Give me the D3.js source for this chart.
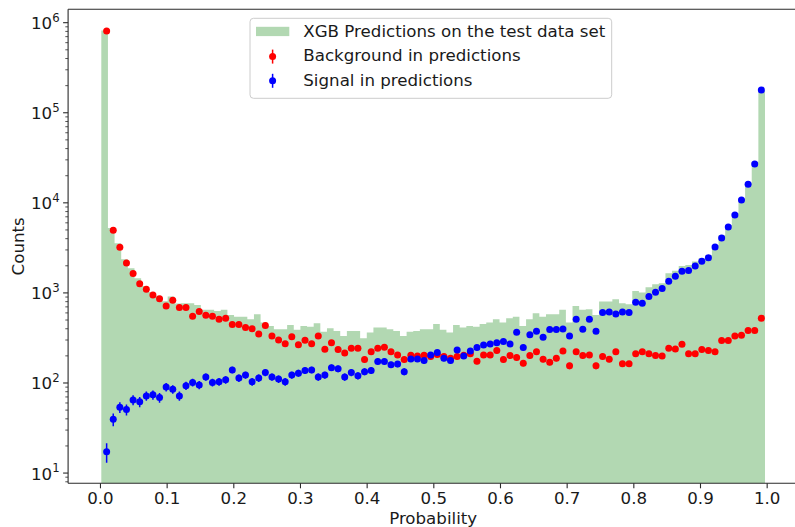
<!DOCTYPE html>
<html>
<head>
<meta charset="utf-8">
<script src="https://cdn.jsdelivr.net/npm/d3@7/dist/d3.min.js"></script>
<style>
  body { margin: 0; background: #fff; }
  svg { display: block; }
  text { font-family: "DejaVu Sans", sans-serif; fill: #1a1a1a; }
</style>
</head>
<body>
<svg id="chart" width="795" height="527"></svg>
<script>
// Histogram of the classifier output (100 bins over the observed score range)
const histRange = [0.002, 0.9975];
const histCounts = [
  810000, 5200, 3520, 2330, 1860, 1440, 1180, 1013, 921, 796,
  903, 751, 759, 759, 727, 640, 640, 623, 640, 562,
  538, 538, 504, 573, 462, 425, 391, 391, 436, 384,
  425, 417, 455, 367, 401, 374, 329, 374, 374, 310,
  358, 407, 407, 391, 374, 329, 367, 374, 391, 391,
  447, 384, 358, 436, 407, 425, 417, 447, 462, 504,
  462, 517, 538, 425, 504, 588, 538, 573, 573, 640,
  462, 708, 640, 651, 562, 791, 791, 841, 759, 739,
  1040, 995, 1142, 1233, 1265, 1634, 1745, 1968, 2018, 2198,
  2397, 2609, 3365, 4320, 5620, 7580, 10980, 16550, 28300, 177000
];

// Per-class counts, placed at the centres of their own bins
const pointRange = [0.010, 0.992];
const backgroundCounts = [
  800000, 4900, 3180, 2120, 1620, 1250, 1085, 938, 853, 708,
  818, 678, 678, 544, 612, 558, 544, 504, 517, 439,
  439, 407, 396, 346, 428, 329, 297, 270, 321, 263,
  295, 270, 329, 234, 277, 232, 213, 240, 240, 180,
  219, 240, 246, 219, 202, 180, 201, 197, 201, 194,
  204, 194, 186, 194, 201, 208, 172, 202, 202, 226,
  180, 199, 189, 164, 199, 220, 181, 168, 186, 224,
  153, 219, 199, 202, 153, 194, 181, 219, 161, 161,
  209, 220, 209, 199, 197, 240, 236, 266, 208, 208,
  232, 226, 219, 292, 292, 329, 335, 377, 377, 517
];
const signalCounts = [
  17, 39, 53, 50, 64, 61, 71, 73, 68, 89,
  84, 71, 92, 100, 94, 115, 100, 102, 107, 138,
  112, 121, 102, 112, 129, 115, 109, 102, 121, 127,
  136, 138, 115, 121, 146, 142, 115, 129, 119, 132,
  136, 171, 171, 157, 160, 132, 182, 182, 175, 202,
  215, 186, 175, 230, 197, 224, 244, 261, 268, 277,
  285, 268, 362, 244, 338, 371, 318, 387, 387, 393,
  329, 504, 390, 504, 371, 597, 608, 577, 608, 597,
  778, 759, 898, 1005, 1102, 1331, 1514, 1719, 1746, 1968,
  2218, 2432, 3199, 4030, 5330, 7250, 10640, 15900, 26700, 176600
];

const xTicks = [0, 0.1, 0.2, 0.3, 0.4, 0.5, 0.6, 0.7, 0.8, 0.9, 1.0];
const xTickLabels = ["0.0", "0.1", "0.2", "0.3", "0.4", "0.5", "0.6", "0.7", "0.8", "0.9", "1.0"];
const yTickExponents = [1, 2, 3, 4, 5, 6];

const legendLabels = [
  "XGB Predictions on the test data set",
  "Background in predictions",
  "Signal in predictions"
];

const colors = { hist: "#b2d8b2", background: "#ff0000", signal: "#0000ff", axis: "#2a2a2a" };
const FONT = 16.67;

const svg = d3.select("#chart");
const plot = { left: 68.1, right: 798.2, top: 9.3, bottom: 483.3 };

const x = d3.scaleLinear().domain([-0.0478, 1.0473]).range([plot.left, plot.right]);
const y = d3.scaleLog().domain([7.6, 1.39e6]).range([plot.bottom, plot.top]);

svg.append("defs").append("clipPath").attr("id", "plotClip")
  .append("rect")
  .attr("x", plot.left).attr("y", plot.top)
  .attr("width", plot.right - plot.left).attr("height", plot.bottom - plot.top);

const area = svg.append("g").attr("clip-path", "url(#plotClip)");

// histogram as one filled step outline (bin left edges + closing right edge)
const nBins = histCounts.length;
const binW = (histRange[1] - histRange[0]) / nBins;
const steps = histCounts.map((c, i) => ({ p: histRange[0] + i * binW, c }));
steps.push({ p: histRange[1], c: histCounts[nBins - 1] });
area.append("path")
  .datum(steps)
  .attr("fill", colors.hist)
  .attr("d", d3.area()
    .curve(d3.curveStepAfter)
    .x(d => x(d.p))
    .y0(plot.bottom)
    .y1(d => y(d.c)));

// error-bar series
function drawSeries(counts, color) {
  const n = counts.length;
  const step = (pointRange[1] - pointRange[0]) / (n - 1);
  const pts = counts.map((c, i) => ({ p: pointRange[0] + i * step, c }));
  const g = area.append("g");
  g.selectAll("line")
    .data(pts)
    .join("line")
    .attr("x1", d => x(d.p)).attr("x2", d => x(d.p))
    .attr("y1", d => y(Math.max(d.c - Math.sqrt(d.c), 1)))
    .attr("y2", d => y(d.c + Math.sqrt(d.c)))
    .attr("stroke", color).attr("stroke-width", 1.5);
  g.selectAll("circle")
    .data(pts)
    .join("circle")
    .attr("cx", d => x(d.p)).attr("cy", d => y(d.c))
    .attr("r", 3.5)
    .attr("fill", color);
}
drawSeries(backgroundCounts, colors.background);
drawSeries(signalCounts, colors.signal);

// x axis
const xAxis = svg.append("g")
  .attr("transform", `translate(0,${plot.bottom})`)
  .call(d3.axisBottom(x).tickValues(xTicks)
    .tickFormat((d, i) => xTickLabels[i]).tickSize(5).tickPadding(3.5).tickSizeOuter(0));
xAxis.select(".domain").remove();
xAxis.selectAll("line").attr("stroke", colors.axis).attr("stroke-width", 1.1);
xAxis.selectAll("text").attr("font-size", FONT).attr("font-family", "DejaVu Sans").attr("fill", "#1a1a1a");

// y axis: major and minor ticks
const majors = yTickExponents.map(e => Math.pow(10, e));
const minors = [];
for (let e = 0; e <= 6; e++) {
  for (let m = 2; m <= 9; m++) {
    const v = m * Math.pow(10, e);
    if (v >= y.domain()[0] && v <= y.domain()[1]) minors.push(v);
  }
}
const yAxis = svg.append("g").attr("transform", `translate(${plot.left},0)`);
yAxis.call(d3.axisLeft(y).tickValues(majors).tickFormat("").tickSize(5).tickSizeOuter(0));
yAxis.select(".domain").remove();
const yMinor = svg.append("g").attr("transform", `translate(${plot.left},0)`);
yMinor.call(d3.axisLeft(y).tickValues(minors).tickFormat("").tickSize(2.8).tickSizeOuter(0));
yMinor.select(".domain").remove();
svg.selectAll(".tick line").attr("stroke", colors.axis).attr("stroke-width", 1.1);
yMinor.selectAll(".tick line").attr("stroke-width", 0.8);

// power-of-ten labels
const yLabels = svg.append("g");
yTickExponents.forEach(e => {
  const t = yLabels.append("text")
    .attr("x", 59.6)
    .attr("y", y(Math.pow(10, e)) + 7)
    .attr("text-anchor", "end")
    .attr("font-size", FONT);
  t.append("tspan").text("10");
  t.append("tspan").attr("dy", -7.6).attr("font-size", 11.7).text(String(e));
});

// spines
const spines = svg.append("g").attr("stroke", colors.axis).attr("stroke-width", 1.1).attr("fill", "none");
spines.append("line").attr("x1", plot.left).attr("x2", plot.right).attr("y1", plot.bottom).attr("y2", plot.bottom);
spines.append("line").attr("x1", plot.left).attr("x2", plot.right).attr("y1", plot.top).attr("y2", plot.top);
spines.append("line").attr("x1", plot.left).attr("x2", plot.left).attr("y1", plot.top).attr("y2", plot.bottom);
spines.append("line").attr("x1", plot.right).attr("x2", plot.right).attr("y1", plot.top).attr("y2", plot.bottom);

// axis titles
svg.append("text")
  .attr("x", (plot.left + plot.right) / 2).attr("y", 523.5)
  .attr("text-anchor", "middle").attr("font-size", FONT)
  .text("Probability");
svg.append("text")
  .attr("transform", `translate(24,${(plot.top + plot.bottom) / 2}) rotate(-90)`)
  .attr("text-anchor", "middle").attr("font-size", FONT)
  .text("Counts");

// legend
const legend = svg.append("g");
legend.append("rect")
  .attr("x", 250).attr("y", 18.3).attr("width", 361.7).attr("height", 80)
  .attr("rx", 3.5)
  .attr("fill", "#fff").attr("fill-opacity", 0.8)
  .attr("stroke", "#cccccc").attr("stroke-width", 1);
const rowBase = [37.0, 61.3, 85.5];
legend.append("rect")
  .attr("x", 256).attr("y", 26.8).attr("width", 33.3).attr("height", 9.3)
  .attr("fill", colors.hist);
[[colors.background, 1], [colors.signal, 2]].forEach(([c, r]) => {
  const cy = rowBase[r] - 4.7;
  legend.append("line")
    .attr("x1", 272.6).attr("x2", 272.6).attr("y1", cy - 7).attr("y2", cy + 7)
    .attr("stroke", c).attr("stroke-width", 1.5);
  legend.append("circle").attr("cx", 272.6).attr("cy", cy).attr("r", 3.5).attr("fill", c);
});
legendLabels.forEach((label, i) => {
  legend.append("text")
    .attr("x", 303.3).attr("y", rowBase[i])
    .attr("font-size", FONT)
    .text(label);
});
</script>
</body>
</html>
